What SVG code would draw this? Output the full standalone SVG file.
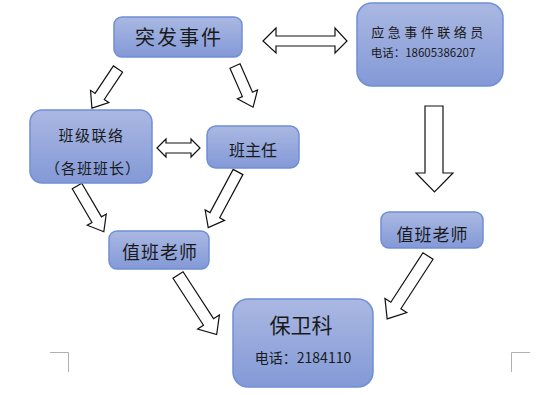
<svg xmlns="http://www.w3.org/2000/svg" width="555" height="395" viewBox="0 0 555 395">
<defs>
<linearGradient id="g" x1="0" y1="0" x2="0" y2="1">
<stop offset="0" stop-color="#aab8e2"/>
<stop offset="1" stop-color="#8399d7"/>
</linearGradient>
<style>
.box{fill:url(#g);stroke:#6f8fd6;stroke-width:1.5}
.t{font-family:"Noto Sans CJK SC","Noto Sans",sans-serif;fill:#1a1a1a;text-anchor:middle}
.arr{fill:#fff;stroke:#111;stroke-width:1.2;stroke-linejoin:miter}
.mark{fill:none;stroke:#b0b0b0;stroke-width:1}
</style>
</defs>
<rect width="555" height="395" fill="#fff"/>
<g id="marks">
<path class="mark" d="M50 352.5H68.5V372"/>
<path class="mark" d="M530 352.5H511.5V372"/>
</g>
<g id="connectors">
<path class="arr" transform="translate(118,69) rotate(123.7)" d="M0 -5.5H33V-11L47 0L33 11V5.5H0Z"/>
<path class="arr" transform="translate(235,66) rotate(66.3)" d="M0 -5.5H31V-11L45 0L31 11V5.5H0Z"/>
<path class="arr" transform="translate(77,186) rotate(59.6)" d="M0 -5.5H39V-11L53 0L39 11V5.5H0Z"/>
<path class="arr" transform="translate(238,172) rotate(118.2)" d="M0 -5.5H49V-11L63 0L49 11V5.5H0Z"/>
<path class="arr" transform="translate(178,275) rotate(57)" d="M0 -6H56V-13L71 0L56 13V6H0Z"/>
<path class="arr" transform="translate(428,256) rotate(123)" d="M0 -6H59V-13L75 0L59 13V6H0Z"/>
<path class="arr" d="M425 106H443V173H453L434.5 192L416 173H425Z"/>
<path class="arr" d="M263 41L276 28V36H335V28L347 41L335 53V46H276V53Z"/>
<path class="arr" d="M157 148L166 139V143H191V139L200 148L191 157V153H166V157Z"/>
</g>
<g id="n1">
<rect class="box" x="114" y="17" width="128" height="40" rx="8"/>
<text class="t" x="179" y="45" font-size="20" letter-spacing="2">突发事件</text>
</g>
<g id="n2">
<rect class="box" x="357" y="3" width="146" height="83" rx="15"/>
<text class="t" x="429" y="37" font-size="13" letter-spacing="3.5">应急事件联络员</text>
<text class="t" x="423" y="57" font-size="11.5">电话：18605386207</text>
</g>
<g id="n3">
<rect class="box" x="30" y="110" width="122" height="73" rx="12"/>
<text class="t" x="91.5" y="141" font-size="15" letter-spacing="1.5">班级联络</text>
<text class="t" x="93" y="174" font-size="15" letter-spacing="1">（各班班长）</text>
</g>
<g id="n4">
<rect class="box" x="207" y="126" width="92" height="42" rx="9"/>
<text class="t" x="253" y="156" font-size="16">班主任</text>
</g>
<g id="n5">
<rect class="box" x="109" y="231" width="100" height="38" rx="8"/>
<text class="t" x="160" y="259" font-size="18" letter-spacing="1">值班老师</text>
</g>
<g id="n6">
<rect class="box" x="381" y="212" width="102" height="36" rx="8"/>
<text class="t" x="432.5" y="241" font-size="17" letter-spacing="1">值班老师</text>
</g>
<g id="n7">
<rect class="box" x="233" y="299" width="140" height="88" rx="15"/>
<text class="t" x="301" y="333" font-size="21">保卫科</text>
<text class="t" x="303" y="363" font-size="14">电话：2184110</text>
</g>
</svg>
